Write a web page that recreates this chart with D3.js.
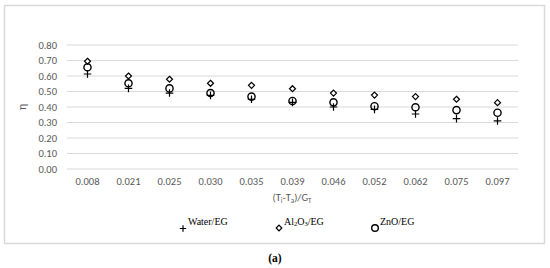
<!DOCTYPE html>
<html><head><meta charset="utf-8">
<script src="https://cdn.jsdelivr.net/npm/d3@7"></script>
<style>body{margin:0;background:#fff}svg{display:block}</style>
</head><body><svg id="c" width="550" height="268"></svg>
<script>
const categories = ["0.008","0.021","0.025","0.030","0.035","0.039","0.046","0.052","0.062","0.075","0.097"];
const waterEG = [0.613,0.52,0.49,0.475,0.45,0.43,0.40,0.385,0.355,0.325,0.31];
const al2o3EG = [0.695,0.60,0.579,0.553,0.54,0.518,0.49,0.477,0.467,0.45,0.428];
const znoEG   = [0.656,0.553,0.52,0.49,0.467,0.439,0.43,0.405,0.398,0.38,0.363];
const yTicks = [0,0.1,0.2,0.3,0.4,0.5,0.6,0.7,0.8];

const svg = d3.select("#c");
svg.append("rect").attr("x",4.5).attr("y",5.5).attr("width",540).attr("height",238)
  .attr("fill","#fff").attr("stroke","#d9d9d9").attr("stroke-width",1.5);

const x = d3.scaleBand().domain(categories).range([67,518]);
const y = d3.scaleLinear().domain([0,0.8]).range([169,45]);

const tickFont = "Carlito, 'Liberation Sans', 'Noto Sans', sans-serif";
svg.append("g").selectAll("line").data(yTicks).join("line")
  .attr("x1",67).attr("x2",518).attr("y1",d=>y(d)).attr("y2",d=>y(d))
  .attr("stroke","#d9d9d9").attr("stroke-width",1);

const yAxis = d3.axisLeft(y).tickValues(yTicks).tickFormat(d3.format(".2f")).tickSize(0).tickPadding(10);
const gy = svg.append("g").attr("transform","translate(67,0)").call(yAxis);
gy.select(".domain").remove();
gy.selectAll("text").attr("fill","#595959").style("font-family",tickFont).style("font-size","10.5px");

const xAxis = d3.axisBottom(x).tickSize(0).tickPadding(9);
const gx = svg.append("g").attr("transform","translate(0,169)").call(xAxis);
gx.select(".domain").remove();
gx.selectAll("text").attr("fill","#595959").style("font-family",tickFont).style("font-size","10.5px");

svg.append("text").attr("transform","translate(26,107) rotate(-90)").attr("text-anchor","middle")
  .attr("fill","#595959").style("font-family",tickFont).style("font-size","11.5px").text("η");
const xt = svg.append("text").attr("x",292).attr("y",201).attr("text-anchor","middle")
  .attr("fill","#595959").style("font-family",tickFont).style("font-size","10.5px");
xt.append("tspan").text("(T");
xt.append("tspan").attr("dy",2).style("font-size","7px").text("i");
xt.append("tspan").attr("dy",-2).text("-T");
xt.append("tspan").attr("dy",2).style("font-size","7px").text("a");
xt.append("tspan").attr("dy",-2).text(")/G");
xt.append("tspan").attr("dy",2).style("font-size","7px").text("T");

const cx = d => x(d) + x.bandwidth()/2;
function plus(g, px, py, s){
  g.append("path").attr("d",`M${px-s},${py}H${px+s}M${px},${py-s}V${py+s}`)
   .attr("stroke","#000").attr("stroke-width",1.2).attr("fill","none");
}
function diamond(g, px, py, s){
  g.append("path").attr("d",`M${px},${py-s}L${px+s},${py}L${px},${py+s}L${px-s},${py}Z`)
   .attr("stroke","#000").attr("stroke-width",1.2).attr("fill","#fff");
}
function circ(g, px, py, r){
  g.append("circle").attr("cx",px).attr("cy",py).attr("r",r)
   .attr("stroke","#000").attr("stroke-width",1.4).attr("fill","none");
}
const gp = svg.append("g");
categories.forEach((c,i)=>{
  plus(gp, cx(c), y(waterEG[i]), 3.8);
  diamond(gp, cx(c), y(al2o3EG[i]), 3);
  circ(gp, cx(c), y(znoEG[i]), 3.6);
});

const lg = svg.append("g");
const serif = "'Liberation Serif','DejaVu Serif',serif";
plus(lg, 183, 228.5, 3.2);
lg.append("text").attr("x",188).attr("y",224.5).style("font-family",serif).style("font-size","10px").text("Water/EG");
diamond(lg, 279, 228, 2.8);
const at = lg.append("text").attr("x",284).attr("y",224.5).style("font-family",serif).style("font-size","10px");
at.append("tspan").text("Al");
at.append("tspan").style("font-size","6.5px").attr("dy",1.5).text("2");
at.append("tspan").attr("dy",-1.5).text("O");
at.append("tspan").style("font-size","6.5px").attr("dy",1.5).text("3");
at.append("tspan").attr("dy",-1.5).text("/EG");
circ(lg, 375, 228, 3.3);
lg.append("text").attr("x",380).attr("y",224.5).style("font-family",serif).style("font-size","10px").text("ZnO/EG");

svg.append("text").attr("x",275).attr("y",262).attr("text-anchor","middle").style("font-family",serif)
  .style("font-size","11.5px").style("font-weight","bold").text("(a)");
</script></body></html>
